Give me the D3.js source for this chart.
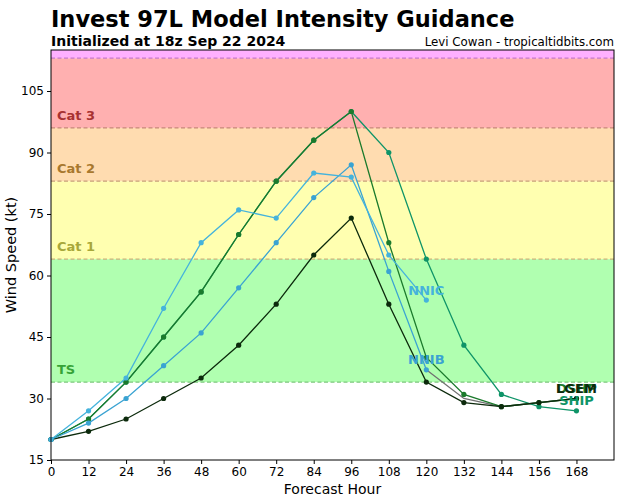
<!DOCTYPE html>
<html><head><meta charset="utf-8">
<script src="https://cdn.jsdelivr.net/npm/d3@7"></script>
<style>body{margin:0;background:#fff}svg{display:block}text{font-family:"DejaVu Sans",sans-serif}</style>
</head><body><svg id="c" width="640" height="500"></svg>
<script>
const hours = [0,12,24,36,48,60,72,84,96,108,120,132,144,156,168];
const xTicks = [0,12,24,36,48,60,72,84,96,108,120,132,144,156,168];
const yTicks = [15,30,45,60,75,90,105];
const modelNames = ["GRAY","SHIP","DSHP","LGEM","NNIB","NNIC"];
const grayVals = [null,null,null,null,null,null,null,null,null,null,37,30,28,29,30];
const shipVals = [20,25,34,45,56,70,83,93,100,90,64,43,31,28,27];
const dshpVals = [20,25,34,45,56,70,83,93,100,68,40,31,28,29,30];
const lgemVals = [20,22,25,30,35,43,53,65,74,53,34,29,28,29,30];
const nnibVals = [20,24,30,38,46,57,68,79,87,61,37];
const nnicVals = [20,27,35,52,68,76,74,85,84,65,54];
const modelColors = ["#707070","#0f9468","#1b7a2c","#0c2a0c","#3aa3d2","#45b3dc"];
const showLabel = [false,true,true,true,true,true];
const showMarker = [false,true,true,true,true,true];
const bandNames = ["TS","Cat 1","Cat 2","Cat 3",""];
const bandLow = [34,64,83,96,113];
const bandHigh = [64,83,96,113,115];
const bandFill = ["#b0ffb0","#ffffb0","#ffdcb0","#ffb0b0","#ffb0ff"];
const bandLine = ["#7cc87c","#c8b47c","#c8a078","#c88878","#c878c8"];
const bandText = ["#37a337","#a8a83a","#a8782e","#a83232",""];

const svg = d3.select("#c");
const L=51,R=614,T=50,B=460;
const x = d3.scaleLinear().domain([0,180]).range([L,R]);
const y = d3.scaleLinear().domain([15,115]).range([B,T]);

bandLow.forEach((lo,i)=>{
  svg.append("rect").attr("x",L).attr("width",R-L)
    .attr("y",y(bandHigh[i])).attr("height",y(lo)-y(bandHigh[i])).attr("fill",bandFill[i]);
});
bandLow.forEach((lo,i)=>{
  svg.append("line").attr("x1",L).attr("x2",R).attr("y1",y(lo)).attr("y2",y(lo))
    .attr("stroke",bandLine[i]).attr("stroke-width",1.2).attr("stroke-dasharray","4,2.5");
  if(bandNames[i]) svg.append("text").attr("x",L+6).attr("y",y(lo+3)).attr("dominant-baseline","central")
    .attr("font-size",13).attr("font-weight","bold").attr("fill",bandText[i]).text(bandNames[i]);
});

const series = [grayVals,shipVals,dshpVals,lgemVals,nnibVals,nnicVals];
const line = d3.line().defined(d=>d[1]!=null).x(d=>x(d[0])).y(d=>y(d[1]));
series.forEach((vals,i)=>{
  const pts = vals.map((v,j)=>[hours[j],v]);
  svg.append("path").attr("d",line(pts)).attr("fill","none").attr("stroke",modelColors[i]).attr("stroke-width",1.3);
  if(showMarker[i]) svg.selectAll(null).data(pts.filter(p=>p[1]!=null)).enter().append("circle")
    .attr("cx",d=>x(d[0])).attr("cy",d=>y(d[1])).attr("r",2.6).attr("fill",modelColors[i]);
});
const labelOrder=[2,3,1,4,5];
labelOrder.forEach(i=>{
  if(!showLabel[i]) return;
  const vals=series[i]; const k=vals.length-1;
  svg.append("text").attr("x",x(hours[k])).attr("y",y(vals[k])-10).attr("dominant-baseline","central")
    .attr("text-anchor","middle").attr("font-size",13).attr("font-weight","bold").attr("fill",modelColors[i]).text(modelNames[i]);
});

const xa = svg.append("g").attr("transform",`translate(0,${B})`).call(d3.axisBottom(x).tickValues(xTicks).tickSize(4).tickPadding(3));
const ya = svg.append("g").attr("transform",`translate(${L},0)`).call(d3.axisLeft(y).tickValues(yTicks).tickSize(4).tickPadding(3));
[xa,ya].forEach(a=>{a.selectAll("text").attr("font-size",12).attr("font-family","DejaVu Sans").attr("fill","#000");a.select(".domain").remove();a.selectAll("line").attr("stroke","#000");});
svg.append("rect").attr("x",L).attr("y",T).attr("width",R-L).attr("height",B-T).attr("fill","none").attr("stroke","#000").attr("stroke-width",1);

svg.append("text").attr("x",(L+R)/2).attr("y",494).attr("text-anchor","middle").attr("font-size",14).text("Forecast Hour");
svg.append("text").attr("transform",`translate(16,${(T+B)/2}) rotate(-90)`).attr("text-anchor","middle").attr("font-size",14.5).text("Wind Speed (kt)");
svg.append("text").attr("x",L).attr("y",27).attr("font-size",22.5).attr("font-weight","bold").text("Invest 97L Model Intensity Guidance");
svg.append("text").attr("x",L).attr("y",46).attr("font-size",14).attr("font-weight","bold").text("Initialized at 18z Sep 22 2024");
svg.append("text").attr("x",R).attr("y",46).attr("text-anchor","end").attr("font-size",11.8).text("Levi Cowan - tropicaltidbits.com");
</script></body></html>
